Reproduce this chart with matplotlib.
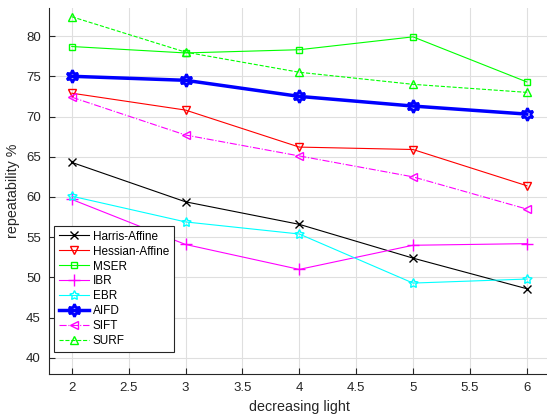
import numpy as np
import matplotlib
matplotlib.use("Agg")
import matplotlib.pyplot as plt

plt.rcParams['font.family'] = ['Liberation Sans', 'DejaVu Sans']

x = [2, 3, 4, 5, 6]
harris = [64.3, 59.4, 56.6, 52.4, 48.6]
hessian = [72.9, 70.8, 66.2, 65.9, 61.4]
mser = [78.7, 77.9, 78.3, 79.9, 74.3]
ibr = [59.7, 54.1, 51.0, 54.0, 54.2]
ebr = [60.1, 56.9, 55.4, 49.3, 49.8]
aifd = [75.0, 74.5, 72.5, 71.3, 70.3]
sift = [72.4, 67.7, 65.1, 62.5, 58.5]
surf = [82.4, 78.0, 75.5, 74.0, 73.0]

fig = plt.figure(figsize=(5.47, 4.17), dpi=100)
ax = fig.add_axes([0.0896, 0.1031, 0.915, 0.878])

ms = 6
ax.plot(x, harris, '-', color='k', marker='x', lw=0.8, ms=ms, mfc='none', label='Harris-Affine')
ax.plot(x, hessian, '-', color='#ff0000', marker='v', lw=0.8, ms=ms, mfc='none', label='Hessian-Affine')
ax.plot(x, mser, '-', color='#00ff00', marker='s', lw=0.8, ms=5, mfc='none', label='MSER')
ax.plot(x, ibr, '-', color='#ff00ff', marker='+', lw=0.8, ms=8, mfc='none', label='IBR')
ax.plot(x, ebr, '-', color='#00ffff', marker=(5, 1, 0), lw=0.8, ms=7, mfc='none', label='EBR')
ax.plot(x, aifd, '-', color='#0000ff', marker=(6, 1, 0), lw=2.5, ms=9, mfc='none', mew=2, label='AIFD')
ax.plot(x, sift, '-.', color='#ff00ff', marker='<', lw=0.8, ms=ms, mfc='none', label='SIFT')
ax.plot(x, surf, '--', color='#00ff00', marker='^', lw=0.8, ms=ms, mfc='none', label='SURF')

ax.set_xlim(1.8, 6.2)
ax.set_ylim(38, 83.5)
ax.set_xticks([2, 2.5, 3, 3.5, 4, 4.5, 5, 5.5, 6])
ax.set_xticklabels(['2', '2.5', '3', '3.5', '4', '4.5', '5', '5.5', '6'])
ax.set_yticks([40, 45, 50, 55, 60, 65, 70, 75, 80])
ax.grid(True, color='#dfdfdf', lw=0.8)
ax.set_axisbelow(True)
for s in ['left', 'bottom']:
    ax.spines[s].set_color('#262626')
for s in ['top', 'right']:
    ax.spines[s].set_visible(False)
ax.tick_params(colors='#262626', labelsize=9.5, direction='in', length=4, pad=6)
ax.set_xlabel('decreasing light', fontsize=10.3, color='#262626', labelpad=4)
ax.set_ylabel('repeatability %', fontsize=10.3, color='#262626')

leg = ax.legend(loc='lower left', bbox_to_anchor=(5 / 500.5, 22 / 366), borderaxespad=0,
                fontsize=8.5, fancybox=False, edgecolor='#262626', framealpha=1,
                handlelength=2.6, labelspacing=0.25, borderpad=0.4, handletextpad=0.3)
leg.get_frame().set_linewidth(0.8)

fig.savefig('out.png', dpi=100)
